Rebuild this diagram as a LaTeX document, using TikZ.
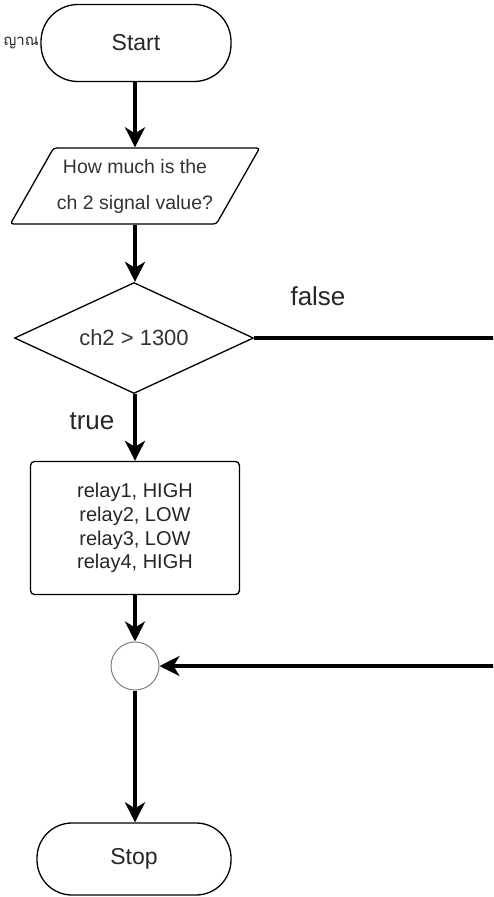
\documentclass[tikz,border=0pt]{standalone}
\usepackage{fontspec}
\setmainfont{Liberation Sans}
\newfontfamily\thaifont[Script=Thai]{Loma}
\usepackage{tikz}
\usetikzlibrary{shapes.geometric, arrows.meta}

\begin{document}
\begin{tikzpicture}[x=1pt, y=-1pt]
% TikZ styles
\tikzset{
  terminal/.style={rectangle, draw=black, line width=1.3pt, rounded corners=37pt, minimum width=190pt, minimum height=77pt, text=black!85, font=\fontsize{23}{26}\selectfont},
  io/.style={trapezium, trapezium left angle=54.6, trapezium right angle=125.4, trapezium stretches body, draw=black, line width=1.3pt, rounded corners=3pt, minimum width=244pt, minimum height=76pt, align=center, text=black!80, font=\fontsize{19.5}{36}\selectfont},
  decision/.style={diamond, aspect=2.15, inner sep=0pt, draw=black, line width=1.3pt, minimum width=239pt, minimum height=111pt, text=black!80, font=\fontsize{22}{26}\selectfont},
  process/.style={rectangle, draw=black, line width=1.3pt, rounded corners=4pt, minimum width=209pt, minimum height=133pt, align=center, text=black!85, font=\fontsize{20}{23.7}\selectfont},
  joint/.style={circle, draw=gray, line width=1pt, minimum size=48pt, inner sep=0pt},
  branch/.style={text=black!85, font=\fontsize{26}{30}\selectfont},
  arrow/.style={-{Stealth[length=20pt, width=20pt, inset=6pt]}, line width=4pt},
  flowline/.style={line width=4pt}
}
\path[use as bounding box, clip] (0,0) rectangle (493,897);

%==========================
% Knoten
%==========================
\node[terminal] (start) at (136,43) {Start};
\node[anchor=east, inner sep=1pt, text=black!85, font=\thaifont\fontsize{15}{18}\selectfont] (thai) at (40,43) {ญาณ};
\node[io] (input) at (135,186) {How much is the\\ch 2 signal value?};
\node[decision] (check) at (134,338) {ch2 > 1300};
\node[branch] (false) at (318,296) {false};
\node[branch] (true) at (92,421) {true};
\node[process] (relays) at (135,528) {relay1, HIGH\\relay2, LOW\\relay3, LOW\\relay4, HIGH};
\node[joint] (merge) at (135,666) {};
\node[terminal, minimum width=194pt, minimum height=72pt, rounded corners=35pt] (stop) at (134,859) {Stop};

\coordinate (outright) at (540,500);

% === Pfeile ===
\draw[arrow] (start.south -| input.north) -- (input.north);
\draw[arrow] (input.south) -- (check.north -| input.south);
\draw[arrow] (check.south -| relays.north) -- (relays.north);
\draw[arrow] (relays.south) -- (merge.north);
\draw[arrow] (merge.south) -- (stop.north -| merge.south);
\draw[arrow] (check.east) -| (outright) |- (merge.east);
\end{tikzpicture}
\end{document}
